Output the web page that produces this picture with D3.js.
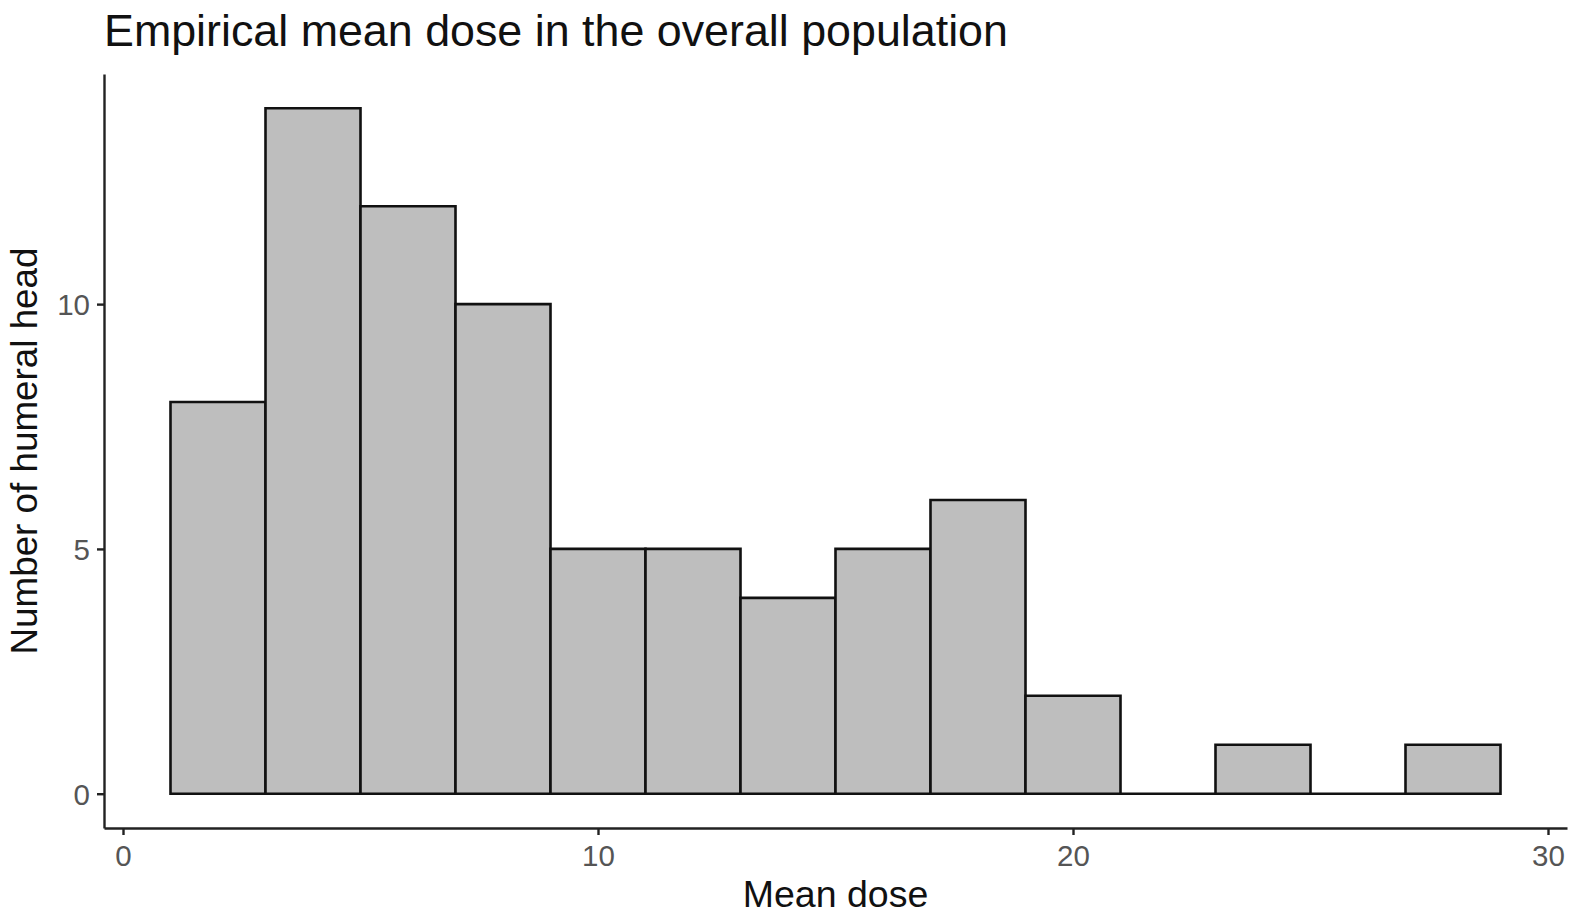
<!DOCTYPE html>
<html>
<head>
<meta charset="utf-8">
<script src="https://cdn.jsdelivr.net/npm/d3@7"></script>
<style>
  body { margin: 0; background: #fff; }
  text { font-family: "Liberation Sans", Arial, sans-serif; }
  .axis path, .axis line { stroke: #222; stroke-width: 2.4px; }
  .axis text { fill: #555; font-size: 29.5px; }
</style>
</head>
<body>
<script>
// histogram bins (width 2) and counts
const binStarts = [1, 3, 5, 7, 9, 11, 13, 15, 17, 19, 21, 23, 25, 27]
const binWidth = 2
const counts = [8, 14, 12, 10, 5, 5, 4, 5, 6, 2, 0, 1, 0, 1]
const xTicks = [0, 10, 20, 30]
const yTicks = [0, 5, 10]

const W = 1579, H = 922
const plot = { left: 104, right: 1567, top: 74, bottom: 828 }

const svg = d3.select("body").append("svg")
    .attr("width", W)
    .attr("height", H)

// ggplot-like 5% expansion
const xMin = d3.min(binStarts), xMax = d3.max(binStarts) + binWidth
const xPad = (xMax - xMin) * 0.05
const yPad = d3.max(counts) * 0.05
let x = d3.scaleLinear().domain([xMin - xPad, xMax + xPad]).range([plot.left, plot.right])
let y = d3.scaleLinear().domain([-yPad, d3.max(counts) + yPad]).range([plot.bottom, plot.top])

// paths so that empty bins still show their outline on the baseline
svg.append("g")
    .selectAll("path")
    .data(counts).enter()
    .append("path")
    .attr("d", (d, i) => {
        const x0 = x(binStarts[i]), x1 = x(binStarts[i] + binWidth)
        return "M" + x0 + "," + y(0) + "V" + y(d) + "H" + x1 + "V" + y(0) + "Z"
    })
    .attr("fill", "#bebebe")
    .attr("stroke", "#111")
    .attr("stroke-width", 2.6)
    .attr("stroke-linejoin", "miter")

svg.append("g")
    .attr("class", "axis")
    .attr("transform", "translate(0," + plot.bottom + ")")
    .call(d3.axisBottom(x).tickValues(xTicks).tickSize(7).tickSizeOuter(0).tickPadding(10))

svg.append("g")
    .attr("class", "axis")
    .attr("transform", "translate(" + plot.left + ",0)")
    .call(d3.axisLeft(y).tickValues(yTicks).tickSize(7).tickSizeOuter(0).tickPadding(7))
    .call(g => g.selectAll("text").attr("dy", "0.36em"))

svg.selectAll(".axis").attr("font-family", null).attr("font-size", null)

svg.append("text")
    .attr("x", 104)
    .attr("y", 46)
    .attr("font-size", 44.8)
    .attr("fill", "#111")
    .text("Empirical mean dose in the overall population")

svg.append("text")
    .attr("text-anchor", "middle")
    .attr("x", (plot.left + plot.right) / 2)
    .attr("y", 907)
    .attr("font-size", 37.5)
    .attr("fill", "#111")
    .text("Mean dose")

svg.append("text")
    .attr("text-anchor", "middle")
    .attr("transform", "translate(37," + (plot.top + plot.bottom) / 2 + ") rotate(-90)")
    .attr("font-size", 36.8)
    .attr("fill", "#111")
    .text("Number of humeral head")
</script>
</body>
</html>
